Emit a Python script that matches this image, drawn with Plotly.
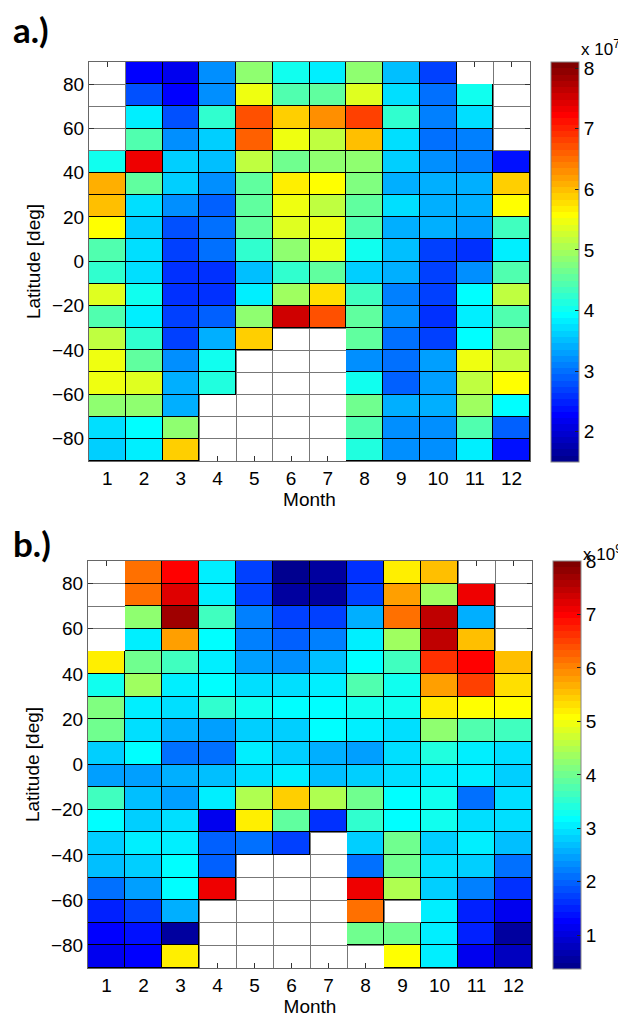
import plotly.graph_objects as go

# ---------------- data ----------------
months = list(range(1, 13))
lat_centers = [85, 75, 65, 55, 45, 35, 25, 15, 5, -5, -15, -25, -35, -45, -55, -65, -75, -85]
lat_ticks = [-80, -60, -40, -20, 0, 20, 40, 60, 80]
cbar_ticks_a = [2, 3, 4, 5, 6, 7, 8]
cbar_ticks_b = [1, 2, 3, 4, 5, 6, 7, 8]
scale_a_label = "x 10<sup>7</sup>"
scale_b_label = "x 10<sup>9</sup>"
zrange_a = [1.5, 8.1]
zrange_b = [0.37, 8.0]

N = None
# panel a values, in units of 1e7 (rows from 90N down to 90S)
z_a = [
    [N, 2.3, 2.15, 3.15, 4.8, 4.0, 3.8, 4.9, 3.5, 2.7, N, N],
    [N, 2.75, 2.25, 3.15, 5.45, 4.45, 4.5, 5.4, 3.75, 3.0, 4.0, N],
    [N, 3.85, 2.8, 4.2, 6.7, 5.85, 6.3, 6.85, 4.25, 3.1, 3.75, N],
    [N, 4.45, 3.25, 3.6, 6.6, 5.5, 5.15, 6.0, 3.7, 2.95, 3.1, N],
    [4.0, 7.3, 3.6, 3.55, 5.15, 4.6, 4.8, 4.85, 3.6, 3.15, 3.1, 2.4],
    [6.1, 4.55, 3.65, 3.15, 4.55, 5.65, 5.6, 4.7, 3.45, 3.45, 3.4, 5.9],
    [5.95, 3.75, 3.25, 2.85, 4.5, 5.45, 5.2, 4.5, 3.75, 3.45, 3.4, 5.55],
    [5.55, 3.6, 2.8, 3.0, 4.5, 5.35, 5.45, 4.4, 3.45, 3.4, 3.35, 4.35],
    [4.45, 3.7, 2.65, 2.95, 4.2, 4.85, 5.45, 4.0, 3.5, 2.65, 2.55, 3.85],
    [4.2, 3.7, 2.55, 2.6, 3.5, 4.2, 4.5, 3.65, 3.45, 2.7, 3.25, 4.45],
    [5.35, 4.0, 2.55, 2.6, 3.85, 5.0, 5.75, 4.3, 3.1, 2.7, 3.9, 5.15],
    [4.45, 3.8, 2.7, 2.85, 4.8, 7.5, 6.7, 4.5, 3.25, 2.6, 3.85, 4.45],
    [5.2, 4.2, 2.7, 3.4, 5.9, N, N, 4.55, 2.95, 2.7, 3.95, 4.85],
    [5.45, 4.55, 3.15, 4.0, N, N, N, 3.25, 2.95, 3.3, 5.45, 5.2],
    [5.5, 5.4, 3.4, 4.15, N, N, N, 4.0, 2.85, 3.3, 5.2, 5.55],
    [4.8, 4.85, 3.4, N, N, N, N, 4.6, 3.45, 3.45, 4.95, 3.9],
    [3.75, 3.95, 4.85, N, N, N, N, 4.45, 3.25, 3.25, 4.4, 2.85],
    [3.65, 3.85, 5.85, N, N, N, N, 4.1, 3.25, 3.2, 3.85, 2.4],
]

# panel b values, in units of 1e9
z_b = [
    [N, 6.2, 7.0, 3.05, 1.7, 0.47, 0.5, 1.6, 5.2, 5.55, N, N],
    [N, 6.1, 7.2, 3.1, 1.7, 0.5, 0.55, 1.7, 5.85, 4.35, 7.05, N],
    [N, 4.2, 7.65, 3.6, 2.25, 1.8, 1.8, 2.55, 6.2, 7.45, 2.55, N],
    [N, 3.1, 5.75, 3.2, 2.25, 2.0, 2.2, 3.0, 4.4, 7.45, 5.5, N],
    [5.2, 4.05, 3.65, 3.0, 2.5, 2.35, 2.65, 3.2, 3.65, 6.65, 7.0, 5.55],
    [3.3, 4.4, 3.0, 3.2, 2.95, 2.95, 3.05, 3.8, 3.35, 5.85, 6.5, 5.3],
    [4.1, 3.0, 2.9, 3.55, 3.3, 3.2, 3.2, 3.3, 3.3, 5.15, 5.1, 5.1],
    [3.95, 2.95, 2.6, 2.5, 2.8, 2.8, 3.2, 3.05, 2.95, 4.3, 3.75, 3.7],
    [2.8, 3.2, 2.1, 2.15, 3.1, 2.8, 2.6, 2.4, 2.95, 3.45, 3.05, 2.9],
    [2.5, 2.5, 2.6, 2.7, 2.95, 3.1, 2.75, 2.8, 2.95, 3.1, 3.1, 2.85],
    [3.65, 2.75, 2.45, 3.0, 4.5, 5.4, 4.5, 4.0, 3.2, 3.3, 2.1, 2.9],
    [3.2, 2.8, 2.95, 1.1, 5.2, 3.85, 1.6, 3.55, 3.2, 3.25, 2.9, 2.95],
    [2.85, 3.05, 3.0, 2.0, 2.15, 1.75, N, 2.8, 3.95, 2.85, 3.1, 2.75],
    [2.65, 2.85, 3.2, 1.95, N, N, N, 2.1, 4.0, 2.95, 2.8, 2.05],
    [2.1, 2.4, 3.15, 7.05, N, N, N, 7.05, 4.5, 2.85, 2.2, 1.6],
    [1.55, 1.7, 2.55, N, N, N, N, 6.2, N, 3.1, 1.55, 1.1],
    [1.25, 1.4, 0.6, N, N, N, N, 4.05, 4.05, 3.1, 1.5, 0.55],
    [1.15, 1.25, 5.2, N, N, N, N, N, 5.1, 3.0, 1.15, 0.8],
]


# ---------------- MATLAB jet(64) colorscale ----------------
def matlab_jet(m=64):
    n = -(-m // 4)
    u = [i / n for i in range(1, n + 1)] + [1.0] * (n - 1) + [i / n for i in range(n, 0, -1)]
    off = -(-n // 2) - (1 if m % 4 == 1 else 0)
    J = [[0.0, 0.0, 0.0] for _ in range(m)]
    for k, val in enumerate(u):
        g = off + k  # 0-based
        r = g + n
        b = g - n
        if 0 <= g < m:
            J[g][1] = val
        if 0 <= r < m:
            J[r][0] = val
        if 0 <= b < m:
            J[b][2] = val
    return J


jet = matlab_jet(64)
colorscale = []
for k, (r, g, b) in enumerate(jet):
    col = f"rgb({round(r*255)},{round(g*255)},{round(b*255)})"
    colorscale.append([k / 64, col])
    colorscale.append([(k + 1) / 64, col])

FONT = "Liberation Sans"
FS = 19

# the page shows the figure with an 8 px body margin
OFF = 8
W, H = 626 - OFF, 1017 - OFF


def fx(px):
    return (px - OFF) / W


def fy(py):
    return 1 - (py - OFF) / H


fig = go.Figure()


def add_panel(z, zr, ticks, xaxis, yaxis, cb_left, cb_top, cb_bottom):
    base = [[0 if v is not None else None for v in row] for row in z]
    fig.add_trace(go.Heatmap(
        x=months, y=lat_centers, z=base, xaxis=xaxis, yaxis=yaxis,
        colorscale=[[0, "black"], [1, "black"]], showscale=False, hoverinfo="skip"))
    fig.add_trace(go.Heatmap(
        x=months, y=lat_centers, z=z, xaxis=xaxis, yaxis=yaxis,
        zmin=zr[0], zmax=zr[1], colorscale=colorscale, xgap=1, ygap=1,
        colorbar=dict(
            x=fx(cb_left), xanchor="left", xpad=0, y=fy(cb_top), yanchor="top", ypad=0,
            len=(cb_bottom - cb_top) / H, lenmode="fraction", thickness=28, thicknessmode="pixels",
            outlinecolor="#888", outlinewidth=1,
            tickvals=ticks, ticks="inside", ticklen=4, tickcolor="#222",
            tickfont=dict(family=FONT, size=FS, color="black"))))


add_panel(z_a, zrange_a, cbar_ticks_a, "x", "y", 551, 62, 462)
add_panel(z_b, zrange_b, cbar_ticks_b, "x2", "y2", 553, 561, 969)

xbase = dict(
    range=[0.5, 12.5], tickvals=months, ticks="inside", ticklen=5, tickcolor="#333",
    showline=True, linecolor="#666", linewidth=1, mirror="allticks", showgrid=False,
    zeroline=False, layer="below traces",
    tickfont=dict(family=FONT, size=FS, color="black"),
    title=dict(text="Month", font=dict(family=FONT, size=FS, color="black"), standoff=3),
    minor=dict(tickvals=[m + 0.5 for m in range(0, 13)], showgrid=True,
               gridcolor="#777", gridwidth=1, ticks=""),
)
ybase = dict(
    range=[-90, 90], tickvals=lat_ticks, ticks="inside", ticklen=5, tickcolor="#333",
    showline=True, linecolor="#666", linewidth=1, mirror="allticks", showgrid=False,
    zeroline=False, layer="below traces",
    tickfont=dict(family=FONT, size=FS, color="black"),
    title=dict(text="Latitude [deg]", font=dict(family=FONT, size=FS, color="black"), standoff=6),
    minor=dict(tickvals=list(range(-90, 91, 10)), showgrid=True,
               gridcolor="#777", gridwidth=1, ticks=""),
)

fig.update_layout(
    width=W, height=H,
    margin=dict(l=0, r=0, t=0, b=0),
    paper_bgcolor="white", plot_bgcolor="white",
    showlegend=False,
    xaxis=dict(xbase, domain=[fx(89), fx(530)], anchor="y"),
    yaxis=dict(ybase, domain=[fy(461), fy(62)], anchor="x"),
    xaxis2=dict(xbase, domain=[fx(88), fx(532)], anchor="y2"),
    yaxis2=dict(ybase, domain=[fy(968), fy(561)], anchor="x2"),
    annotations=[
        dict(text="<b>a.)</b>", x=fx(11), y=fy(29), xref="paper", yref="paper",
             xanchor="left", yanchor="middle", showarrow=False,
             font=dict(family="Lato", size=35, color="black")),
        dict(text="<b>b.)</b>", x=fx(11), y=fy(543), xref="paper", yref="paper",
             xanchor="left", yanchor="middle", showarrow=False,
             font=dict(family="Lato", size=35, color="black")),
        dict(text=scale_a_label, x=fx(579), y=fy(61), xref="paper", yref="paper",
             xanchor="left", yanchor="bottom", showarrow=False,
             font=dict(family=FONT, size=17, color="black")),
        dict(text=scale_b_label, x=fx(581), y=fy(566), xref="paper", yref="paper",
             xanchor="left", yanchor="bottom", showarrow=False,
             font=dict(family=FONT, size=17, color="black")),
    ],
)

fig.write_html("out.html")
